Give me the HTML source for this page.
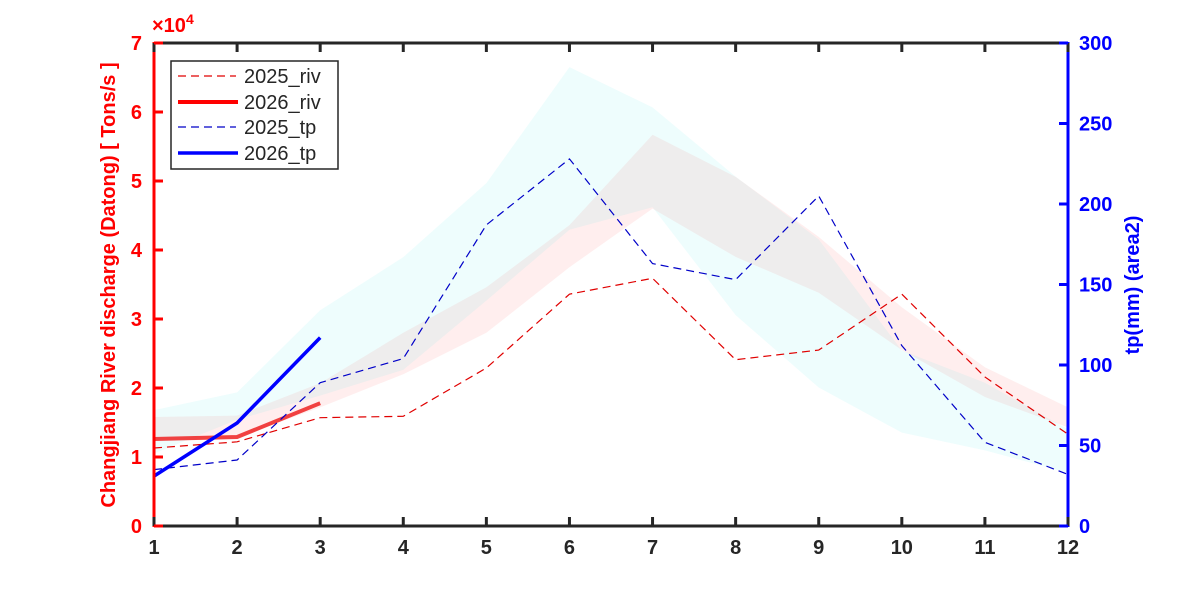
<!DOCTYPE html>
<html><head><meta charset="utf-8"><style>
body{margin:0;background:#fff}
text{font-family:"Liberation Sans",Arial,sans-serif}
</style></head><body>
<svg id="chart" width="1182" height="591" xmlns="http://www.w3.org/2000/svg">
<g id="bands"></g><g id="lines"></g><g id="axes"></g><g id="legend"></g>
</svg>
<script>
const months=[1,2,3,4,5,6,7,8,9,10,11,12];
const rivUpper=[1.58,1.6,2.07,2.8,3.46,4.36,5.67,5.06,4.19,3.17,2.3,1.72];
const rivLower=[1.25,1.28,1.72,2.2,2.8,3.75,4.6,3.9,3.38,2.55,1.87,1.43];
const tpUpper=[72,83,134,167,213,285,260,217,178,109,89,60];
const tpLower=[45,66,81,97,140,184,198,131,86,58,47,33];
const riv2025=[1.13,1.22,1.57,1.59,2.29,3.36,3.59,2.41,2.55,3.36,2.16,1.33];
const riv2026=[1.26,1.29,1.78];
const tp2025=[35,41,89,104,187,228,163,153,205,112,52,32];
const tp2026=[31,64,117];
const leftTicks=[0,1,2,3,4,5,6,7];
const rightTicks=[0,50,100,150,200,250,300];
const NS="http://www.w3.org/2000/svg";
const X0=154,X1=1068,Y0=526,Y1=43;
const xs=m=>X0+(m-1)*(X1-X0)/11;
const yl=v=>Y0-v*(Y0-Y1)/7;
const yr=v=>Y0-v*(Y0-Y1)/300;
function mk(tag,attrs,parent){const e=document.createElementNS(NS,tag);for(const k in attrs)e.setAttribute(k,attrs[k]);document.getElementById(parent).appendChild(e);return e;}
function pts(arr,fy){return arr.map((v,i)=>xs(months[i])+','+fy(v)).join(' ');}
function band(up,lo,fy,color,op,name){
  const p=up.map((v,i)=>xs(months[i])+','+fy(v)).concat(lo.map((v,i)=>[xs(months[i]),fy(v)]).reverse().map(a=>a.join(','))).join(' ');
  const e=mk('polygon',{points:p,fill:color,'fill-opacity':op},'bands');
  
  
}
band(rivUpper,rivLower,yl,'rgb(255,0,0)',0.065,'riv-range-band');
band(tpUpper,tpLower,yr,'rgb(0,225,225)',0.065,'tp-range-band');
function line(arr,fy,color,w,dash,name,op){
  const e=mk('polyline',{points:pts(arr,fy),fill:'none',stroke:color,'stroke-width':w,'stroke-opacity':op||1},'lines');
  if(dash)e.setAttribute('stroke-dasharray',dash);
  
  
}
line(riv2025,yl,'#e00000',1.2,'8,5','line-2025-riv');
line(riv2026,yl,'#ee2222',4,null,'line-2026-riv',0.85);
line(tp2025,yr,'#0000c8',1.2,'8,5','line-2025-tp');
line(tp2026,yr,'#0000ff',3.5,null,'line-2026-tp');
let a;
a=mk('line',{x1:X0,y1:Y1,x2:X1,y2:Y1,stroke:'#262626','stroke-width':3},'axes');
a=mk('line',{x1:X0,y1:Y0,x2:X1,y2:Y0,stroke:'#262626','stroke-width':3},'axes');
a=mk('line',{x1:X0,y1:Y1-1,x2:X0,y2:Y0+1,stroke:'#ff0000','stroke-width':3},'axes');
a=mk('line',{x1:X1,y1:Y1-1,x2:X1,y2:Y0+1,stroke:'#0000ff','stroke-width':3},'axes');
months.forEach(m=>{
  mk('line',{x1:xs(m),y1:Y0,x2:xs(m),y2:Y0-9,stroke:'#262626','stroke-width':3},'axes');
  mk('line',{x1:xs(m),y1:Y1,x2:xs(m),y2:Y1+9,stroke:'#262626','stroke-width':3},'axes');
  const t=mk('text',{x:xs(m),y:Y0+28,'text-anchor':'middle','font-size':20,'font-weight':'bold',fill:'#262626'},'axes');
  t.textContent=m;
  
  
});
leftTicks.forEach(v=>{
  mk('line',{x1:X0,y1:yl(v),x2:X0+9,y2:yl(v),stroke:'#ff0000','stroke-width':3},'axes');
  const t=mk('text',{x:X0-12,y:yl(v)+7,'text-anchor':'end','font-size':20,'font-weight':'bold',fill:'#ff0000'},'axes');
  t.textContent=v;
  
  
});
rightTicks.forEach(v=>{
  mk('line',{x1:X1,y1:yr(v),x2:X1-9,y2:yr(v),stroke:'#0000ff','stroke-width':3},'axes');
  const t=mk('text',{x:X1+11,y:yr(v)+7,'text-anchor':'start','font-size':20,'font-weight':'bold',fill:'#0000ff'},'axes');
  t.textContent=v;
  
  
});
</script>
<svg style="position:absolute;left:0;top:0" width="1182" height="591" xmlns="http://www.w3.org/2000/svg">
<text x="152" y="32" font-size="20" font-weight="bold" fill="#ff0000">×10<tspan font-size="14" dy="-8">4</tspan></text>
<text transform="translate(115,285) rotate(-90)" text-anchor="middle" font-size="20" font-weight="bold" fill="#ff0000">Changjiang River discharge (Datong) [ Tons/s ]</text>
<text transform="translate(1139,285) rotate(-90)" text-anchor="middle" font-size="20" font-weight="bold" fill="#0000ff">tp(mm) (area2)</text>
<g>
<rect x="171" y="61" width="167" height="108" fill="#fff" stroke="#262626" stroke-width="1.5"/>
<line x1="178" y1="76" x2="236" y2="76" stroke="#e00000" stroke-width="1.2" stroke-dasharray="8,5"/>
<line x1="178" y1="102" x2="238" y2="102" stroke="#ff0000" stroke-width="4"/>
<line x1="178" y1="127" x2="236" y2="127" stroke="#0000c8" stroke-width="1.2" stroke-dasharray="8,5"/>
<line x1="178" y1="153" x2="238" y2="153" stroke="#0000ff" stroke-width="3.5"/>
<text x="244" y="83" font-size="20" fill="#262626">2025_riv</text>
<text x="244" y="109" font-size="20" fill="#262626">2026_riv</text>
<text x="244" y="134" font-size="20" fill="#262626">2025_tp</text>
<text x="244" y="160" font-size="20" fill="#262626">2026_tp</text>
</g>
</svg>
</body></html>
